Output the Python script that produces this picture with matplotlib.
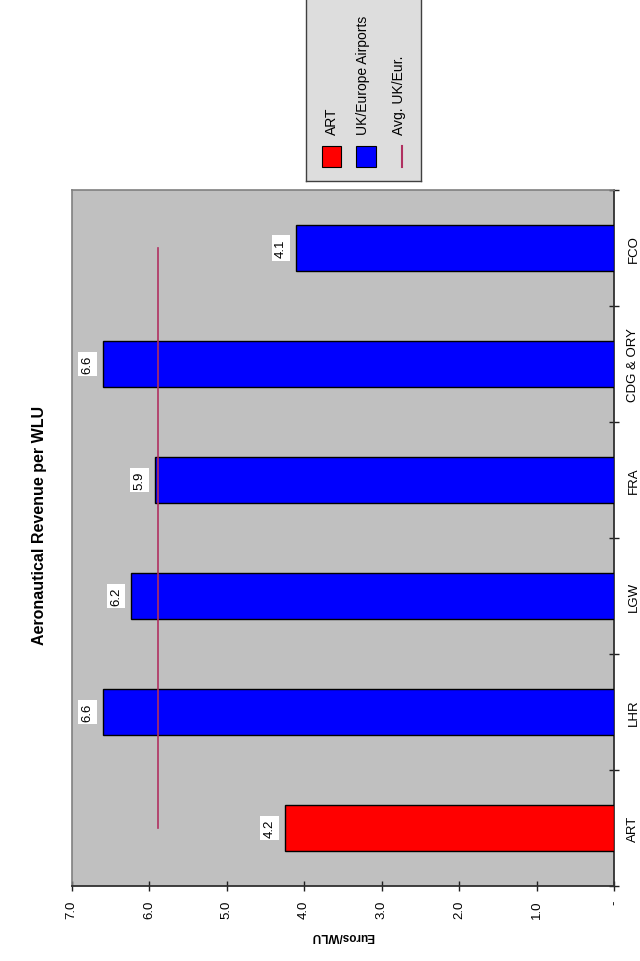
import numpy as np
import matplotlib
matplotlib.use('Agg')
import matplotlib.pyplot as plt
from matplotlib.patches import Rectangle
from matplotlib.lines import Line2D

plt.rcParams['font.family'] = ['Liberation Sans', 'DejaVu Sans']

# aeronautical revenue per WLU, euros
airports = ['ART', 'LHR', 'LGW', 'FRA', 'CDG & ORY', 'FCO']
revenue = [4.25, 6.6, 6.23, 5.93, 6.6, 4.1]
bar_colors = ['#FF0000', '#0000FF', '#0000FF', '#0000FF', '#0000FF', '#0000FF']
value_ticks = [7.0, 6.0, 5.0, 4.0, 3.0, 2.0, 1.0, 0.0]
legend_labels = ['ART', 'UK/Europe Airports', 'Avg. UK/Eur.']

avg_color = '#B03060'
W, H = 640, 962

fig = plt.figure(figsize=(W / 100, H / 100), dpi=100)

# chart is laid out sideways: value axis along the bottom, categories on the right
ax = fig.add_axes([71.7 / W, 1 - 887 / H, (614 - 71.7) / W, (887 - 191) / H])
ax.set_facecolor('#C0C0C0')

pos = np.arange(len(airports))
ax.barh(pos, revenue, height=0.4, color=bar_colors, edgecolor='black', linewidth=1.0, zorder=3)

# average of the UK/Europe airports
avg = np.mean(revenue[1:])
ax.plot([avg, avg], [pos[0], pos[-1]], color=avg_color, linewidth=1.2, zorder=4)

for i, v in enumerate(revenue):
    ax.annotate(f'{v:.1f}', xy=(v, i), xytext=(-11, 0), textcoords='offset points',
                rotation=90, ha='center', va='center', fontsize=9.5, zorder=5,
                bbox=dict(boxstyle='square,pad=0.25', fc='white', ec='none'))

ax.set_xlim(7, 0)
ax.set_ylim(-0.5, len(airports) - 0.5)

ax.set_xticks(value_ticks)
ax.set_xticklabels(['-' if t == 0 else f'{t:.1f}' for t in value_ticks], rotation=90, fontsize=9.5)
ax.tick_params(axis='x', direction='inout', length=7, width=1, pad=6, color='#202020')

ax.yaxis.tick_right()
ax.set_yticks(np.arange(-0.5, len(airports), 1.0))
ax.set_yticklabels([])
ax.set_yticks(pos, minor=True)
ax.set_yticklabels(airports, minor=True, rotation=90, va='center', ha='center', fontsize=9.5)
ax.tick_params(axis='y', which='major', direction='inout', length=7, width=1, color='#202020')
ax.tick_params(axis='y', which='minor', length=0, pad=14)

for side in ['top', 'left']:
    ax.spines[side].set_color('#808080')
    ax.spines[side].set_linewidth(1.2)
for side in ['bottom', 'right']:
    ax.spines[side].set_color('#303030')
    ax.spines[side].set_linewidth(1.3)

ax.set_xlabel('Euros/WLU', fontsize=8.5, fontweight='bold', rotation=180, labelpad=8)

fig.text(40 / W, 1 - 525 / H, 'Aeronautical Revenue per WLU', rotation=90,
         ha='center', va='center', fontsize=11.5, fontweight='bold')

# legend panel, drawn sideways like the rest
lax = fig.add_axes([306 / W, 1 - 182 / H, 115 / W, 186 / H])
lax.set_xlim(0, 115)
lax.set_ylim(182, -4)
lax.set_facecolor('#DDDDDD')
for s in lax.spines.values():
    s.set_color('#404040')
    s.set_linewidth(1.0)
lax.set_xticks([])
lax.set_yticks([])
lax.add_patch(Rectangle((15.7, 147), 19, 21, facecolor=bar_colors[0], edgecolor='black', linewidth=0.8))
lax.add_patch(Rectangle((50, 147), 19.7, 21, facecolor=bar_colors[1], edgecolor='black', linewidth=0.8))
lax.add_line(Line2D([96, 96], [147, 168], color=avg_color, linewidth=1.5))
for x, lab in zip([25.7, 57, 93], legend_labels):
    lax.text(x, 135, lab, rotation=90, ha='center', va='bottom', fontsize=10)

fig.savefig('out.png', dpi=100)
